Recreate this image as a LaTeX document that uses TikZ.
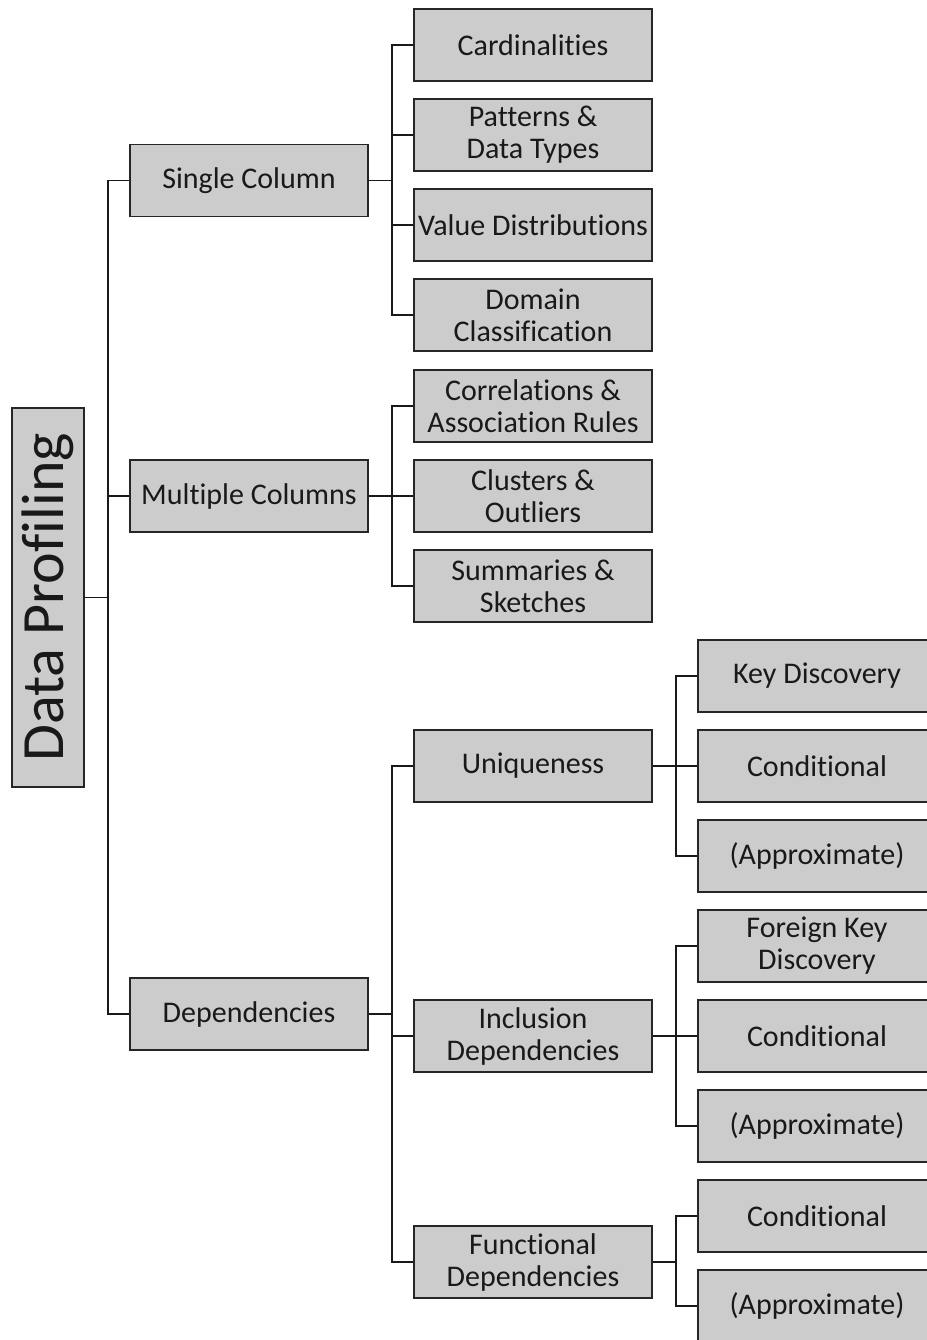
\documentclass[tikz,border=0pt]{standalone}
\usepackage{fontspec}
\setmainfont[Ligatures={NoCommon}]{Carlito}
\begin{document}
\begin{tikzpicture}[x=0.75pt,y=-0.75pt,
  box/.style={draw=black!85,line width=1.3pt,fill=black!20,minimum width=178.5pt,minimum height=54pt,
    inner sep=0pt,align=center,font=\fontsize{22.5}{24}\selectfont,text=black!90},
  rootbox/.style={box,minimum width=54pt,minimum height=284.25pt,font=\fontsize{45}{50}\selectfont},
  link/.style={draw=black!90,line width=1.3pt}]
\useasboundingbox (0,0) rectangle (927,1340);
\clip (0,0) rectangle (927,1340);
% root
\node[rootbox] (root) at (48,597.5) {\rotatebox{90}{Data Profiling}};
% level 1
\node[box] (single) at (249,180.5) {Single Column};
\node[box] (multi) at (249,496) {Multiple Columns};
\node[box] (dep) at (249,1014) {Dependencies};
% level 2
\node[box] (card) at (533,45) {Cardinalities};
\node[box] (pat) at (533,135) {Patterns \&\\Data Types};
\node[box] (val) at (533,225) {Value Distributions};
\node[box] (dom) at (533,315) {Domain\\Classification};
\node[box] (corr) at (533,406) {Correlations \&\\Association Rules};
\node[box] (clu) at (533,496) {Clusters \&\\Outliers};
\node[box] (sum) at (533,586) {Summaries \&\\Sketches};
\node[box] (uniq) at (533,766) {Uniqueness};
\node[box] (incl) at (533,1036) {Inclusion\\Dependencies};
\node[box] (func) at (533,1262) {Functional\\Dependencies};
% level 3
\node[box] (key) at (817,676) {Key Discovery};
\node[box] (ucond) at (817,766) {Conditional};
\node[box] (uappr) at (817,856) {(Approximate)};
\node[box] (fkey) at (817,946) {Foreign Key\\Discovery};
\node[box] (icond) at (817,1036) {Conditional};
\node[box] (iappr) at (817,1126) {(Approximate)};
\node[box] (fcond) at (817,1216) {Conditional};
\node[box] (fappr) at (817,1306) {(Approximate)};
% connectors: elbow from parent to each child via a shared trunk
\foreach \p/\c in {root/single,root/multi,root/dep}
  \draw[link] (\p.east) -- ++(23,0) |- (\c.west);
\foreach \p/\c in {single/card,single/pat,single/val,single/dom,
                   multi/corr,multi/clu,multi/sum,
                   dep/uniq,dep/incl,dep/func}
  \draw[link] (\p.east) -- ++(23,0) |- (\c.west);
\foreach \p/\c in {uniq/key,uniq/ucond,uniq/uappr,
                   incl/fkey,incl/icond,incl/iappr,
                   func/fcond,func/fappr}
  \draw[link] (\p.east) -- ++(23,0) |- (\c.west);
\end{tikzpicture}
\end{document}
